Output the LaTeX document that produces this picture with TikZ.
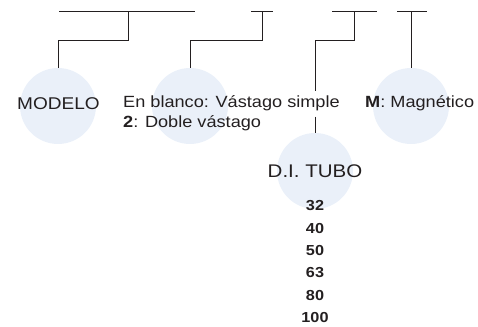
\documentclass[tikz,border=0pt]{standalone}
\usepackage{fontspec}
\setmainfont[FakeStretch=1.12]{Liberation Sans}
\usetikzlibrary{positioning}
\definecolor{bubbleBlue}{RGB}{234,240,249}
\definecolor{inkGray}{RGB}{35,31,32}

\begin{document}
\begin{tikzpicture}[
    x=1pt, y=-1pt,
    bubble/.style={circle, fill=bubbleBlue, minimum size=76pt, inner sep=0pt},
    title/.style={inner sep=0pt, text=inkGray, font=\fontsize{17}{20}\selectfont},
    txt/.style={inner xsep=0pt, inner ysep=5pt, text height=11pt, text depth=4pt, text=inkGray, font=\fontsize{16.2}{19}\selectfont},
    num/.style={inner sep=0pt, text=inkGray, font=\fontsize{14.5}{17}\selectfont\bfseries},
    wire/.style={draw=inkGray, line width=1pt}
]
\useasboundingbox (0,0) rectangle (478,326);

% circles
\node[bubble] (modelo) at (58,106) {};
\node[bubble] (rod) at (190,106) {};
\node[bubble] (magnet) at (411,106) {};
\node[bubble] (tube) at (315,171) {};

% texts
\node[title] (modeloText) at (58.5,104) {MODELO};
\node[txt, anchor=base west] (blankText) at (123,107.5) {En blanco: Vástago simple};
\node[txt, anchor=base west] (doubleText) at (123,127.5) {\textbf{2}: Doble vástago};
\node[txt, anchor=base west] (magnetText) at (365,107.5) {\textbf{M}: Magnético};
\node[title, font=\fontsize{18.3}{21}\selectfont] (tubeText) at (315,171) {D.I. TUBO};
\foreach \d [count=\i from 0] in {32,40,50,63,80,100}
    \node[num] (bore\i) at (315,206+22.3*\i) {\d};

% code bars
\coordinate (bar1L) at (59,12);  \coordinate (bar1R) at (195,12);
\coordinate (bar2L) at (251,12); \coordinate (bar2R) at (273,12);
\coordinate (bar3L) at (332,12); \coordinate (bar3R) at (377,12);
\coordinate (bar4L) at (397,12); \coordinate (bar4R) at (427,12);
\coordinate (tap1) at (128,12);
\coordinate (tap2) at (262,12);
\coordinate (tap3) at (354,12);
\coordinate (tap4) at (411,12);

\draw[wire] (bar1L) -- (bar1R);
\draw[wire] (bar2L) -- (bar2R);
\draw[wire] (bar3L) -- (bar3R);
\draw[wire] (bar4L) -- (bar4R);

\draw[wire] (tap1) -- ++(0,29) -| (modelo.north);
\draw[wire] (tap2) -- ++(0,29) -| (rod.north);
\draw[wire] (tap3) -- ++(0,29) -| (blankText.north -| tube.north);
\draw[wire] (blankText.south -| tube.north) -- (tube.north);
\draw[wire] (tap4) -- (magnet.north);

\end{tikzpicture}
\end{document}
